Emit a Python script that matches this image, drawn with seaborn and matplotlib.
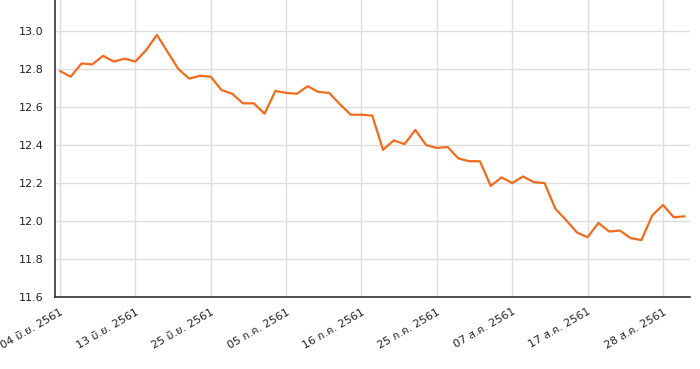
import matplotlib
matplotlib.use("Agg")
import matplotlib.pyplot as plt
import seaborn as sns
import pandas as pd
import numpy as np

values = [12.79, 12.76, 12.83, 12.825, 12.87, 12.84, 12.855, 12.84, 12.90, 12.98,
          12.89, 12.80, 12.75, 12.765, 12.76, 12.69, 12.67, 12.62, 12.62, 12.565,
          12.685, 12.675, 12.67, 12.71, 12.68, 12.675, 12.615, 12.56, 12.56, 12.555,
          12.375, 12.425, 12.405, 12.48, 12.40, 12.385, 12.39, 12.33, 12.315, 12.315,
          12.185, 12.23, 12.20, 12.235, 12.205, 12.20, 12.065, 12.005, 11.94, 11.915,
          11.99, 11.945, 11.95, 11.91, 11.90, 12.03, 12.085, 12.02, 12.025]
tick_index = [0, 7, 14, 21, 28, 35, 42, 49, 56]
tick_labels = ["04 มิ.ย. 2561", "13 มิ.ย. 2561", "25 มิ.ย. 2561", "05 ก.ค. 2561",
               "16 ก.ค. 2561", "25 ก.ค. 2561", "07 ส.ค. 2561", "17 ส.ค. 2561",
               "28 ส.ค. 2561"]
y_ticks = [11.6, 11.8, 12.0, 12.2, 12.4, 12.6, 12.8, 13.0]

df = pd.DataFrame({"i": np.arange(len(values)), "v": values})

sns.set_style("white")
plt.rcParams['font.family'] = ['DejaVu Sans', 'Noto Sans Thai']

fig = plt.figure(figsize=(7, 3.69), dpi=100)
ax = fig.add_axes([0.0786, 0.195, 0.907, 0.805])
sns.lineplot(data=df, x="i", y="v", ax=ax, color="#f26b1d", linewidth=1.6)

ax.set_xlim(-0.46, 58.5)
ax.set_ylim(11.6, 13.164)
ax.set_yticks(y_ticks)
ax.set_yticklabels([f"{t:.1f}" for t in y_ticks])
ax.set_xticks(tick_index)
ax.set_xticklabels(tick_labels, rotation=30, ha="right", rotation_mode="anchor")
ax.grid(True, color="#dddddd", linewidth=1)
ax.set_axisbelow(True)
ax.set_xlabel("")
ax.set_ylabel("")
for s in ["top", "right"]:
    ax.spines[s].set_visible(False)
for s in ["left", "bottom"]:
    ax.spines[s].set_color("#333333")
    ax.spines[s].set_linewidth(1.2)
ax.tick_params(axis="both", which="major", length=5, width=1, color="#333333",
               labelsize=8, labelcolor="#222222", pad=3)
ax.tick_params(axis="x", pad=2)
fig.savefig("out.png", dpi=100)
